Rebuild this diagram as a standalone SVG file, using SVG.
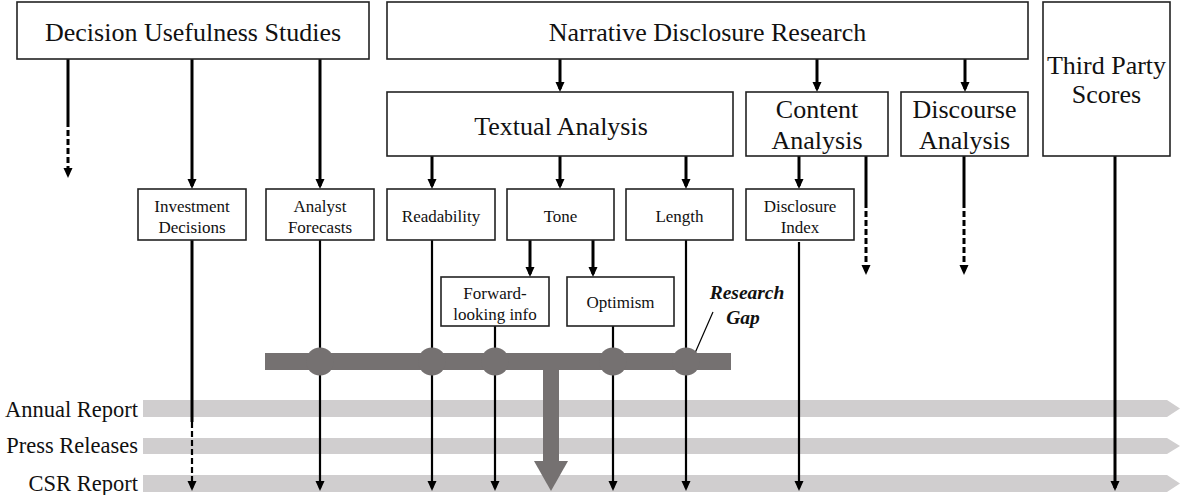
<svg xmlns="http://www.w3.org/2000/svg" width="1188" height="495" viewBox="0 0 1188 495">
<style>
.box{fill:#fff;stroke:#222;stroke-width:1.6}
text{font-family:'Liberation Serif','Times New Roman',Times,'DejaVu Serif',serif;fill:#111}
.big{font-size:26px;text-anchor:middle}
.sm{font-size:17px;text-anchor:middle}
.lbl{font-size:22.5px;text-anchor:end}
.gap{font-size:19.5px;font-weight:bold;font-style:italic;text-anchor:middle}
.band{fill:#d0cecf}
.dark{fill:#757171}
.c{fill:none;stroke:#000}
.w3{stroke-width:3}
.w2{stroke-width:2.2}
.d{stroke-dasharray:6,3}
</style>
<defs>
<marker id="ah" markerUnits="userSpaceOnUse" markerWidth="10" markerHeight="10" refX="7" refY="4.5" orient="auto">
<path d="M0,0 L10,4.5 L0,9 z" fill="#000"/>
</marker>
</defs>
<g id="bands">
<polygon class="band" points="143,400 1167,400 1180,408.5 1167,417 143,417"/>
<polygon class="band" points="143,438 1167,438 1180,446 1167,454 143,454"/>
<polygon class="band" points="143,475 1167,475 1180,483.5 1167,492 143,492"/>
<text class="lbl" x="138" y="417">Annual Report</text>
<text class="lbl" x="138" y="453">Press Releases</text>
<text class="lbl" x="138" y="491">CSR Report</text>
</g>
<g id="connectors">
<line class="c w3" x1="68" y1="59" x2="68" y2="121"/>
<line class="c w3 d" x1="68" y1="121" x2="68" y2="175" marker-end="url(#ah)"/>
<line class="c w3" x1="192" y1="59" x2="192" y2="186" marker-end="url(#ah)"/>
<line class="c w3" x1="320" y1="59" x2="320" y2="186" marker-end="url(#ah)"/>
<line class="c w3" x1="560" y1="59" x2="560" y2="89" marker-end="url(#ah)"/>
<line class="c w3" x1="817" y1="59" x2="817" y2="89" marker-end="url(#ah)"/>
<line class="c w3" x1="965" y1="59" x2="965" y2="89" marker-end="url(#ah)"/>
<line class="c w3" x1="432" y1="156" x2="432" y2="186" marker-end="url(#ah)"/>
<line class="c w3" x1="560" y1="156" x2="560" y2="186" marker-end="url(#ah)"/>
<line class="c w3" x1="686" y1="156" x2="686" y2="186" marker-end="url(#ah)"/>
<line class="c w3" x1="799" y1="156" x2="799" y2="186" marker-end="url(#ah)"/>
<line class="c w3" x1="530" y1="240" x2="530" y2="274" marker-end="url(#ah)"/>
<line class="c w3" x1="593" y1="240" x2="593" y2="274" marker-end="url(#ah)"/>
<line class="c w3" x1="866" y1="156" x2="866" y2="202"/>
<line class="c w3 d" x1="866" y1="202" x2="866" y2="272" marker-end="url(#ah)"/>
<line class="c w3" x1="964" y1="156" x2="964" y2="202"/>
<line class="c w3 d" x1="964" y1="202" x2="964" y2="272" marker-end="url(#ah)"/>
<line class="c w3" x1="192" y1="240" x2="192" y2="422"/>
<line class="c w2 d" x1="192" y1="422" x2="192" y2="488" marker-end="url(#ah)"/>
<line class="c w2" x1="320" y1="240" x2="320" y2="488" marker-end="url(#ah)"/>
<line class="c w2" x1="432" y1="240" x2="432" y2="488" marker-end="url(#ah)"/>
<line class="c w2" x1="495" y1="326" x2="495" y2="488" marker-end="url(#ah)"/>
<line class="c w2" x1="613" y1="326" x2="613" y2="488" marker-end="url(#ah)"/>
<line class="c w2" x1="686" y1="240" x2="686" y2="488" marker-end="url(#ah)"/>
<line class="c w2" x1="799" y1="242" x2="799" y2="488" marker-end="url(#ah)"/>
<line class="c w3" x1="1115" y1="156" x2="1115" y2="488" marker-end="url(#ah)"/>
<line class="c" stroke-width="1.2" x1="713" y1="312" x2="695" y2="353"/>
</g>
<g id="research-gap-bar">
<rect class="dark" x="265" y="353" width="466" height="17"/>
<circle class="dark" cx="320" cy="361.5" r="14"/>
<circle class="dark" cx="432" cy="361.5" r="14"/>
<circle class="dark" cx="495" cy="361.5" r="14"/>
<circle class="dark" cx="613" cy="361.5" r="14"/>
<circle class="dark" cx="686" cy="361.5" r="14"/>
<rect class="dark" x="543" y="362" width="16" height="100"/>
<polygon class="dark" points="534,461 568,461 551,491"/>
<text class="gap" x="747" y="299">Research</text>
<text class="gap" x="743" y="324">Gap</text>
</g>
<g id="decision-usefulness">
<rect class="box" x="17" y="2" width="352" height="57"/>
<text class="big" x="193" y="41">Decision Usefulness Studies</text>
</g>
<g id="narrative-disclosure">
<rect class="box" x="387" y="2" width="641" height="57"/>
<text class="big" x="707.5" y="41">Narrative Disclosure Research</text>
</g>
<g id="third-party">
<rect class="box" x="1043" y="2" width="127" height="154"/>
<text class="big" x="1106.5" y="74">Third Party</text>
<text class="big" x="1106.5" y="103">Scores</text>
</g>
<g id="textual-analysis">
<rect class="box" x="387" y="92" width="346" height="64"/>
<text class="big" x="561" y="135">Textual Analysis</text>
</g>
<g id="content-analysis">
<rect class="box" x="746" y="92" width="142" height="64"/>
<text class="big" x="817" y="118">Content</text>
<text class="big" x="817" y="149">Analysis</text>
</g>
<g id="discourse-analysis">
<rect class="box" x="901" y="92" width="127" height="64"/>
<text class="big" x="964.5" y="118">Discourse</text>
<text class="big" x="964.5" y="149">Analysis</text>
</g>
<g id="investment-decisions">
<rect class="box" x="138" y="189" width="108" height="51"/>
<text class="sm" x="192" y="211.5">Investment</text>
<text class="sm" x="192" y="233">Decisions</text>
</g>
<g id="analyst-forecasts">
<rect class="box" x="266" y="189" width="108" height="51"/>
<text class="sm" x="320" y="211.5">Analyst</text>
<text class="sm" x="320" y="233">Forecasts</text>
</g>
<g id="readability">
<rect class="box" x="387" y="189" width="108" height="51"/>
<text class="sm" x="441" y="222">Readability</text>
</g>
<g id="tone">
<rect class="box" x="507" y="189" width="107" height="51"/>
<text class="sm" x="560.5" y="222">Tone</text>
</g>
<g id="length">
<rect class="box" x="626" y="189" width="107" height="51"/>
<text class="sm" x="679.5" y="222">Length</text>
</g>
<g id="disclosure-index">
<rect class="box" x="746" y="189" width="108" height="51"/>
<text class="sm" x="800" y="211.5">Disclosure</text>
<text class="sm" x="800" y="233">Index</text>
</g>
<g id="forward-looking">
<rect class="box" x="441" y="277" width="108" height="49"/>
<text class="sm" x="495" y="299">Forward-</text>
<text class="sm" x="495" y="319.5">looking info</text>
</g>
<g id="optimism">
<rect class="box" x="567" y="277" width="107" height="49"/>
<text class="sm" x="620.5" y="308">Optimism</text>
</g>
</svg>
